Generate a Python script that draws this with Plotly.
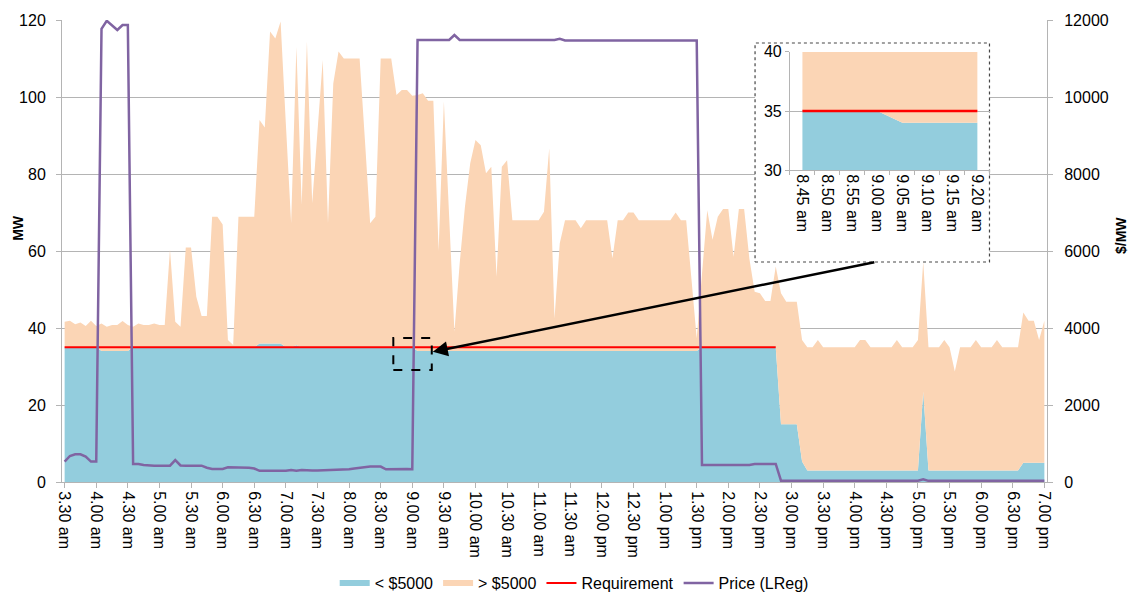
import plotly.graph_objects as go

# ---------------- categories (5-minute dispatch intervals, 3.30 am .. 7.00 pm) ----------------
def _fmt(mins):
    h, m = divmod(mins, 60)
    suffix = "am" if h < 12 else "pm"
    return f"{(h % 12) or 12}.{m:02d} {suffix}"

times = [_fmt(210 + 5 * k) for k in range(187)]
tick_labels = times[::6]

# ---------------- series values (MW) ----------------
# enabled regulation offered below $5000/MW
lt5000_mw = [
    35, 35, 35, 35, 35, 35, 35, 34, 34, 34, 34, 34,          # 3.30
    34, 35, 35, 35, 35, 35, 35, 35, 35, 35, 35, 35,          # 4.30
    35, 35, 35, 35, 35, 35, 35, 35, 35, 35, 35, 35,          # 5.30
    35, 36, 36, 36, 36, 36, 35, 35, 35.5, 35, 35, 35,        # 6.30
    35, 35, 35, 35, 35, 35, 35, 35, 35, 35, 35, 35,          # 7.30
    35, 35, 35, 35, 35, 35, 35, 34, 34, 34, 34, 34,          # 8.30
    34, 34, 34, 34, 34, 34, 34, 34, 34, 34, 34, 34,          # 9.30
    34, 34, 34, 34, 34, 34, 34, 34, 34, 34, 34, 34,          # 10.30
    34, 34, 34, 34, 34, 34, 34, 34, 34, 34, 34, 34,          # 11.30
    34, 34, 34, 34, 34, 34, 34, 34, 34, 34, 34, 34,          # 12.30
    34, 35, 35, 35, 35, 35, 35, 35, 35, 35, 35, 35,          # 1.30
    35, 35, 35, 35, 15, 15, 15, 15, 5.3, 3, 3, 3,            # 2.30
    3, 3, 3, 3, 3, 3, 3, 3, 3, 3, 3, 3,                      # 3.30
    3, 3, 3, 3, 3, 3, 3, 23.5, 3, 3, 3, 3,                   # 4.30
    3, 3, 3, 3, 3, 3, 3, 3, 3, 3, 3, 3,                      # 5.30
    3, 3, 5, 5, 5, 5, 5,                                     # 6.30 .. 7.00
]

# total enabled regulation (top of the "> $5000" band)
total_mw = [
    41.6, 41.9, 41.0, 41.4, 40.5, 41.9, 40.5, 41.2, 40.3, 40.8, 40.8, 41.8,
    40.8, 40.3, 41.2, 40.8, 40.8, 41.2, 40.8, 40.8, 60.4, 41.6, 40.3, 60.9,
    60.9, 48.1, 43.1, 43.1, 68.9, 68.9, 66.9, 36.9, 35.6, 68.9, 68.9, 68.9,
    68.9, 94.0, 92.1, 117.0, 115.2, 119.6, 93.0, 67.2, 113.0, 72.0, 114.4, 72.4,
    91.0, 109.6, 67.2, 103.5, 111.8, 110.0, 110.0, 110.0, 110.0, 89.0, 67.2, 68.9,
    110.0, 110.0, 110.0, 100.5, 101.8, 101.8, 100.3, 100.5, 101.0, 99.0, 99.0, 60.0,
    98.8, 69.0, 39.0, 56.8, 71.5, 82.8, 88.8, 87.5, 80.2, 81.9, 53.3, 81.9,
    83.6, 68.0, 68.0, 68.0, 68.0, 68.0, 68.0, 70.2, 86.7, 42.5, 62.0, 68.0,
    68.0, 68.0, 65.9, 68.0, 68.0, 68.0, 68.0, 68.0, 58.1, 68.0, 68.0, 70.0,
    70.0, 68.0, 68.0, 68.0, 68.0, 68.0, 68.0, 68.0, 70.0, 68.0, 68.0, 52.7,
    37.3, 54.0, 70.6, 62.9, 68.9, 70.9, 70.9, 58.5, 70.9, 70.9, 58.0, 49.4,
    49.0, 47.0, 47.0, 56.0, 49.0, 46.8, 46.8, 46.8, 36.9, 35.0, 35.0, 36.9,
    35.0, 35.0, 35.0, 35.0, 35.0, 35.0, 35.0, 36.9, 36.9, 35.0, 35.0, 35.0,
    35.0, 35.0, 36.9, 35.0, 35.0, 35.0, 36.9, 57.2, 35.0, 35.0, 35.0, 36.9,
    35.0, 28.7, 35.0, 35.0, 35.0, 36.9, 35.0, 35.0, 35.0, 36.9, 35.0, 35.0,
    35.0, 35.0, 44.0, 41.9, 41.9, 36.9, 41.9,
]

# Lower regulation price ($/MW)
price_lreg = [
    530, 675, 720, 720, 660, 530, 530, 11770, 11980, 11850, 11740, 11870,
    11870, 470, 470, 440, 425, 425, 425, 425, 425, 570, 430, 420,
    425, 420, 425, 370, 340, 340, 340, 380, 380, 375, 370, 370,
    350, 290, 290, 290, 290, 290, 290, 310, 295, 310, 300, 300,
    300, 305, 305, 305, 310, 310, 330, 350, 370, 390, 400, 400,
    400, 330, 335, 340, 340, 335, 330, 11480, 11480, 11480, 11480, 11480,
    11480, 11480, 11610, 11480, 11480, 11480, 11480, 11480, 11480, 11480, 11480, 11480,
    11480, 11480, 11480, 11480, 11480, 11480, 11480, 11480, 11480, 11480, 11510, 11470,
    11470, 11470, 11470, 11470, 11470, 11470, 11470, 11470, 11470, 11470, 11470, 11470,
    11470, 11470, 11470, 11470, 11470, 11470, 11470, 11470, 11470, 11470, 11470, 11470,
    11470, 440, 440, 440, 440, 440, 440, 440, 440, 440, 440, 470,
    470, 470, 470, 470, 35, 35, 35, 35, 35, 35, 35, 35,
    35, 35, 35, 35, 35, 35, 35, 35, 35, 35, 35, 35,
    35, 35, 35, 35, 35, 35, 35, 70, 30, 30, 30, 30,
    30, 30, 30, 30, 30, 30, 30, 30, 30, 30, 30, 30,
    30, 30, 30, 30, 30, 30, 30,
]

# Regulation requirement
requirement_x = ["3.30 am", "2.45 pm"]
requirement_mw = [35, 35]

# zoomed window shown in the inset
inset_start, inset_end = "8.45 am", "9.20 am"

# ---------------- styling ----------------
BLUE = "rgb(147,205,221)"
PEACH = "rgb(251,213,181)"
RED = "rgb(255,0,0)"
PURPLE = "rgb(128,100,162)"
GRID = "rgb(180,180,180)"
FONT = "Arial, Liberation Sans, sans-serif"

fig = go.Figure()

# main chart
fig.add_trace(go.Scatter(x=times, y=lt5000_mw, name="< $5000", mode="none",
                         fill="tozeroy", fillcolor=BLUE, hoverinfo="skip"))
fig.add_trace(go.Scatter(x=times, y=total_mw, name="> $5000", mode="none",
                         fill="tonexty", fillcolor=PEACH, hoverinfo="skip"))
fig.add_trace(go.Scatter(x=requirement_x, y=requirement_mw, name="Requirement",
                         mode="lines", line=dict(color=RED, width=2)))
fig.add_trace(go.Scatter(x=times, y=price_lreg, name="Price (LReg)", yaxis="y2",
                         mode="lines", line=dict(color=PURPLE, width=2.5)))

# white inset panel with dotted frame (drawn on its own full-size overlay subplot)
bx0, bx1, by0, by1 = 0.7036, 0.9416, 0.4762, 0.9502
fig.add_trace(go.Scatter(x=[bx0, bx1, bx1, bx0, bx0], y=[by0, by0, by1, by1, by0],
                         xaxis="x2", yaxis="y3", mode="lines", fill="toself",
                         fillcolor="white", line=dict(color="rgb(70,70,70)", width=1.2, dash="dot"),
                         showlegend=False, hoverinfo="skip"))

# inset chart
i0, i1 = times.index(inset_start), times.index(inset_end) + 1
ix = times[i0:i1]
fig.add_trace(go.Scatter(x=ix, y=lt5000_mw[i0:i1], xaxis="x3", yaxis="y4", mode="none",
                         fill="tozeroy", fillcolor=BLUE, showlegend=False, hoverinfo="skip"))
fig.add_trace(go.Scatter(x=ix, y=total_mw[i0:i1], xaxis="x3", yaxis="y4", mode="none",
                         fill="tonexty", fillcolor=PEACH, showlegend=False, hoverinfo="skip"))
fig.add_trace(go.Scatter(x=ix, y=[requirement_mw[0]] * len(ix), xaxis="x3", yaxis="y4",
                         mode="lines", line=dict(color=RED, width=2.5),
                         showlegend=False, hoverinfo="skip"))

axis_common = dict(showline=True, linecolor=GRID, linewidth=1, ticks="outside",
                   tickcolor=GRID, automargin=False,
                   tickfont=dict(family=FONT, size=16, color="black"))

fig.update_layout(
    width=1132, height=595,
    margin=dict(l=62, r=85, t=20, b=113, autoexpand=False),
    paper_bgcolor="white", plot_bgcolor="rgba(0,0,0,0)",
    font=dict(family=FONT, size=16, color="black"),
    xaxis=dict(type="category", categoryorder="array", categoryarray=times,
               range=[-0.5, len(times) - 0.5], tickvals=tick_labels, ticktext=tick_labels,
               tickangle=90, ticklen=5, showgrid=False, domain=[0, 1], anchor="y",
               **axis_common),
    yaxis=dict(range=[0, 120], dtick=20, showgrid=True, gridcolor=GRID, gridwidth=1,
               ticklen=5, ticklabelstandoff=7, zeroline=False, **axis_common),
    yaxis2=dict(range=[0, 12000], dtick=2000, overlaying="y", side="right",
                showgrid=False, ticklen=5, ticklabelstandoff=8, zeroline=False,
                exponentformat="none", tickformat="d", **axis_common),
    xaxis2=dict(range=[0, 1], domain=[0, 1], anchor="y3", visible=False,
                fixedrange=True, automargin=False),
    yaxis3=dict(range=[0, 1], domain=[0, 1], anchor="x2", visible=False,
                fixedrange=True, automargin=False),
    xaxis3=dict(type="category", range=[-0.5, len(ix) - 0.5], domain=[0.739, 0.942],
                anchor="y4", tickangle=90, tickson="boundaries", ticklen=4,
                showgrid=False, **axis_common),
    yaxis4=dict(range=[30, 40], dtick=5, domain=[0.675, 0.931], anchor="x3",
                showgrid=True, gridcolor=GRID, ticklen=4, zeroline=False, **axis_common),
    legend=dict(orientation="h", x=0.52, xanchor="center", y=-0.2186, yanchor="middle",
                font=dict(family=FONT, size=16), bgcolor="rgba(0,0,0,0)",
                traceorder="normal"),
    showlegend=True,
)

# axis titles
fig.add_annotation(text="<b>MW</b>", xref="paper", yref="paper", x=-0.0447, y=0.55,
                   xanchor="center", yanchor="middle",
                   textangle=-90, showarrow=False, font=dict(family=FONT, size=14))
fig.add_annotation(text="<b>$/MW</b>", xref="paper", yref="paper", x=1.0751, y=0.5346,
                   xanchor="center", yanchor="middle",
                   textangle=-90, showarrow=False, font=dict(family=FONT, size=14))

# dashed marker around the zoomed window and arrow to the inset
fig.add_shape(type="rect", xref="x", yref="y", x0=i0 - 0.6, x1=i1 - 1.3, y0=29.1, y1=37.4,
              line=dict(color="black", width=2, dash="dash"), layer="above")
fig.add_annotation(x=i1 - 1.1, y=33.8, xref="x", yref="y", ax=443, ay=-90,
                   text="", showarrow=True, arrowhead=2, arrowsize=1.2,
                   arrowwidth=2.5, arrowcolor="black")

fig.write_html("out.html", config={"displayModeBar": False},
               post_script="document.body.style.margin='0px';document.body.style.overflow='hidden';")
